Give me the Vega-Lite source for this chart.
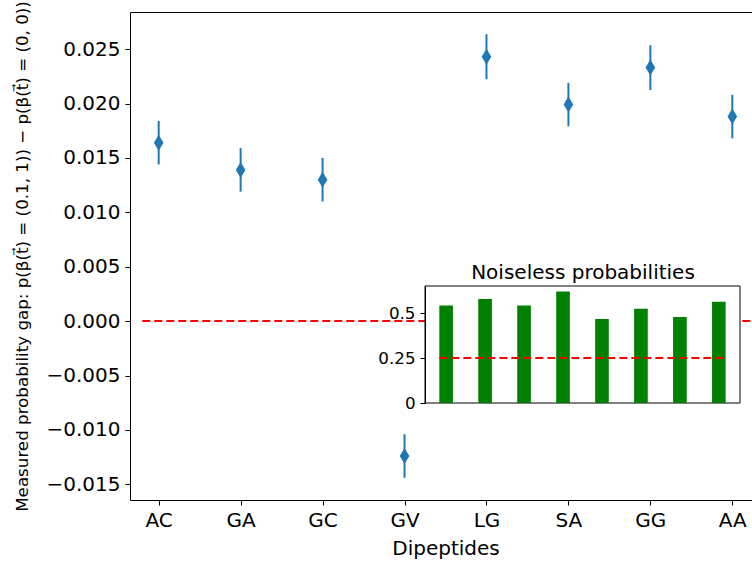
{
  "$schema": "https://vega.github.io/schema/vega-lite/v6.json",
  "width": 622,
  "height": 488,
  "autosize": {"type": "none"},
  "padding": {"left": 130, "top": 12, "right": 0, "bottom": 65},
  "background": "white",
  "config": {
    "view": {"stroke": null},
    "font": "DejaVu Sans",
    "axis": {
      "domainColor": "black", "tickColor": "black", "labelColor": "black", "titleColor": "black",
      "grid": false, "titleFontWeight": "normal", "domainWidth": 1, "tickWidth": 1
    }
  },
  "datasets": {
    "gap": [
      {"dipeptide": "AC", "gap": 0.0164, "err": 0.002},
      {"dipeptide": "GA", "gap": 0.0139, "err": 0.002},
      {"dipeptide": "GC", "gap": 0.0130, "err": 0.002},
      {"dipeptide": "GV", "gap": -0.0124, "err": 0.002},
      {"dipeptide": "LG", "gap": 0.0243, "err": 0.00207},
      {"dipeptide": "SA", "gap": 0.0199, "err": 0.002},
      {"dipeptide": "GG", "gap": 0.0233, "err": 0.00206},
      {"dipeptide": "AA", "gap": 0.0188, "err": 0.002}
    ],
    "noiseless": [
      {"dipeptide": "AC", "probability": 0.543},
      {"dipeptide": "GA", "probability": 0.578},
      {"dipeptide": "GC", "probability": 0.543},
      {"dipeptide": "GV", "probability": 0.620},
      {"dipeptide": "LG", "probability": 0.467},
      {"dipeptide": "SA", "probability": 0.524},
      {"dipeptide": "GG", "probability": 0.478},
      {"dipeptide": "AA", "probability": 0.563}
    ]
  },
  "resolve": {
    "scale": {"x": "independent", "y": "independent"},
    "axis": {"x": "independent", "y": "independent"}
  },
  "layer": [
    {
      "data": {"values": [{}]},
      "mark": {"type": "rule", "color": "red", "strokeWidth": 2, "strokeDash": [8, 4]},
      "encoding": {
        "x": {"datum": -0.2, "type": "quantitative",
              "scale": {"domain": [-0.35, 7.35], "range": [0, 631]},
              "axis": {"orient": "top", "domain": true, "ticks": false, "labels": false, "title": null}},
        "x2": {"datum": 7.35},
        "y": {"datum": 0, "type": "quantitative",
              "scale": {"domain": [-0.01644, 0.02841]}, "axis": null}
      }
    },
    {
      "data": {"name": "gap"},
      "encoding": {
        "x": {
          "field": "dipeptide", "type": "nominal",
          "sort": ["AC", "GA", "GC", "GV", "LG", "SA", "GG", "AA"],
          "scale": {"type": "point", "padding": 0.35, "range": [0, 631]},
          "axis": {"title": "Dipeptides", "labelAngle": 0, "labelFontSize": 20, "titleFontSize": 20,
                   "tickSize": 5, "labelPadding": 5, "titlePadding": 8}
        }
      },
      "layer": [
        {
          "mark": {"type": "errorbar", "color": "#1f77b4", "thickness": 2, "ticks": false},
          "encoding": {
            "y": {"field": "gap", "type": "quantitative",
                  "scale": {"domain": [-0.01644, 0.02841]},
                  "axis": {"values": [-0.015, -0.01, -0.005, 0, 0.005, 0.01, 0.015, 0.02, 0.025],
                           "format": ".3f", "labelFontSize": 20, "tickSize": 5, "labelPadding": 5,
                           "title": "Measured probability gap: p(β(t⃗) = (0.1, 1)) − p(β(t⃗) = (0, 0))",
                           "titleFontSize": 16.7, "titlePadding": 14}},
            "yError": {"field": "err"}
          }
        },
        {
          "mark": {"type": "point", "shape": "M0,-1L0.6,0L0,1L-0.6,0Z", "filled": true,
                   "size": 256, "color": "#1f77b4", "opacity": 1},
          "encoding": {
            "y": {"field": "gap", "type": "quantitative",
                  "scale": {"domain": [-0.01644, 0.02841]},
                  "axis": {"values": [-0.015, -0.01, -0.005, 0, 0.005, 0.01, 0.015, 0.02, 0.025],
                           "format": ".3f", "labelFontSize": 20, "tickSize": 5, "labelPadding": 5,
                           "title": "Measured probability gap: p(β(t⃗) = (0.1, 1)) − p(β(t⃗) = (0, 0))",
                           "titleFontSize": 16.7, "titlePadding": 14}}
          }
        }
      ]
    },
    {
      "data": {"values": [{}]},
      "mark": {"type": "rect", "fill": "white", "stroke": "black", "strokeWidth": 1},
      "encoding": {
        "x": {"datum": 0, "type": "quantitative", "scale": {"domain": [0, 1], "range": [295, 610]}, "axis": null},
        "x2": {"datum": 1},
        "y": {"datum": 0, "type": "quantitative", "scale": {"domain": [0, 1], "range": [391, 274]}, "axis": null},
        "y2": {"datum": 1}
      }
    },
    {
      "data": {"name": "noiseless"},
      "mark": {"type": "bar", "color": "green"},
      "encoding": {
        "x": {
          "field": "dipeptide", "type": "nominal",
          "sort": ["AC", "GA", "GC", "GV", "LG", "SA", "GG", "AA"],
          "scale": {"type": "band", "range": [295, 610], "paddingInner": 0.65, "paddingOuter": 0.3675},
          "axis": {"orient": "top", "offset": -274, "domain": false, "ticks": false, "labels": false,
                   "title": "Noiseless probabilities", "titleFontSize": 20, "titlePadding": 4, "zindex": 1}
        },
        "y": {
          "field": "probability", "type": "quantitative",
          "scale": {"domain": [0, 0.651], "range": [391, 274]},
          "axis": {"orient": "left", "offset": -295, "values": [0, 0.25, 0.5], "format": ".2~f",
                   "title": null, "labelFontSize": 16.7, "tickSize": 5, "labelPadding": 5, "zindex": 1}
        }
      }
    },
    {
      "data": {"values": [{}]},
      "mark": {"type": "rule", "color": "red", "strokeWidth": 2, "strokeDash": [8, 4]},
      "encoding": {
        "x": {"datum": -0.175, "type": "quantitative",
              "scale": {"domain": [-0.5425, 7.5425], "range": [295, 610]}, "axis": null},
        "x2": {"datum": 7.175},
        "y": {"datum": 0.25, "type": "quantitative",
              "scale": {"domain": [0, 0.651], "range": [391, 274]}, "axis": null}
      }
    }
  ]
}
